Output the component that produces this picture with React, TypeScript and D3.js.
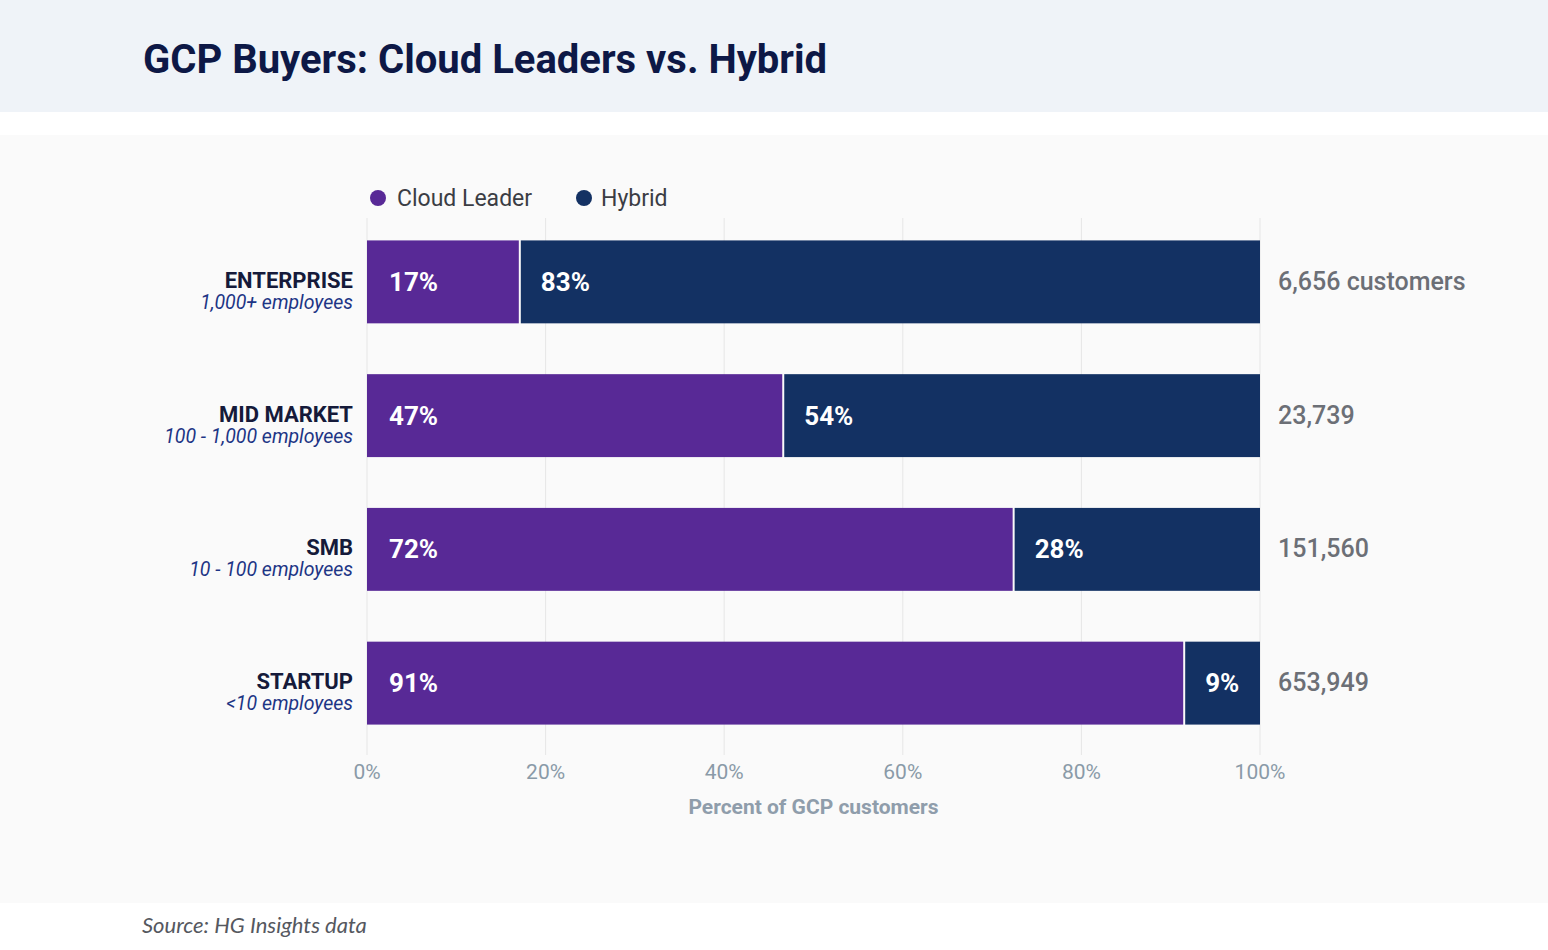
import * as React from "react";
import * as d3 from "d3";

const segments = ["ENTERPRISE", "MID MARKET", "SMB", "STARTUP"];
const segmentSizes = ["1,000+ employees", "100 - 1,000 employees", "10 - 100 employees", "<10 employees"];
const cloudLeader = [17, 46.5, 72.3, 91.4];
const hybrid = [83, 53.5, 27.7, 8.6];
const customerCounts = ["6,656 customers", "23,739", "151,560", "653,949"];
const xTicks = [0, 20, 40, 60, 80, 100];

const W = 1548;
const H = 950;
const PURPLE = "#582996";
const NAVY = "#133163";
const FONT = "Roboto, 'Open Sans', sans-serif";

export default function App() {
  React.useEffect(() => {
    document.body.style.margin = "0";
  }, []);

  const x = d3.scaleLinear().domain([0, 100]).range([367, 1260]);
  const y = d3.scaleBand().domain(segments).range([215, 750]).paddingInner(0.38).paddingOuter(0.19);
  const bh = y.bandwidth();

  return (
    <svg width={W} height={H} style={{ display: "block" }} fontFamily={FONT}>
      <rect x={0} y={0} width={W} height={H} fill="#ffffff" />
      <rect x={0} y={0} width={W} height={112} fill="#eff3f8" />
      <text x={143} y={73} fontSize={40} fontWeight={700} fill="#0d1846">
        GCP Buyers: Cloud Leaders vs. Hybrid
      </text>
      <rect x={0} y={135} width={W} height={768} fill="#fafafa" />

      {/* legend */}
      <circle cx={378} cy={198} r={8} fill={PURPLE} />
      <text x={397} y={206} fontSize={23} fill="#3b3d44">Cloud Leader</text>
      <circle cx={584} cy={198} r={8} fill={NAVY} />
      <text x={601} y={206} fontSize={23} fill="#3b3d44">Hybrid</text>

      {/* grid */}
      {xTicks.map((t) => (
        <line key={"g" + t} x1={x(t)} x2={x(t)} y1={218} y2={755} stroke="#e6e6e6" strokeWidth={1} />
      ))}

      {segments.map((s, i) => {
        const y0 = y(s) as number;
        const cy = y0 + bh / 2;
        const x1 = x(cloudLeader[i]);
        return (
          <g key={s}>
            <rect x={x(0)} y={y0} width={x1 - x(0)} height={bh} fill={PURPLE} />
            <rect x={x1 + 2} y={y0} width={x(cloudLeader[i] + hybrid[i]) - x1 - 2} height={bh} fill={NAVY} />
            <text x={x(0) + 22} y={cy + 9} fontSize={26} fontWeight={700} fill="#ffffff">
              {Math.round(cloudLeader[i])}%
            </text>
            <text x={x1 + 22} y={cy + 9} fontSize={26} fontWeight={700} fill="#ffffff">
              {Math.round(hybrid[i])}%
            </text>
            <text x={353} y={cy + 6} textAnchor="end" fontSize={22} fontWeight={700} fill="#151a3a">
              {s}
            </text>
            <text x={353} y={cy + 27} textAnchor="end" fontSize={19.5} fontStyle="italic" fill="#1d3585">
              {segmentSizes[i]}
            </text>
            <text x={1278} y={cy + 8} fontSize={25} fontWeight={500} fill="#6c6f76">
              {customerCounts[i]}
            </text>
          </g>
        );
      })}

      {/* axis */}
      {xTicks.map((t) => (
        <text key={"t" + t} x={x(t)} y={779} textAnchor="middle" fontSize={21} fill="#8a9aa8">
          {t}%
        </text>
      ))}
      <text x={(x(0) + x(100)) / 2} y={814} textAnchor="middle" fontSize={21} fontWeight={700} fill="#8f9dab">
        Percent of GCP customers
      </text>

      <text x={142} y={933} fontSize={22} fontStyle="italic" fill="#555860" fontFamily="Lato, 'Open Sans', sans-serif">
        Source: HG Insights data
      </text>
    </svg>
  );
}
